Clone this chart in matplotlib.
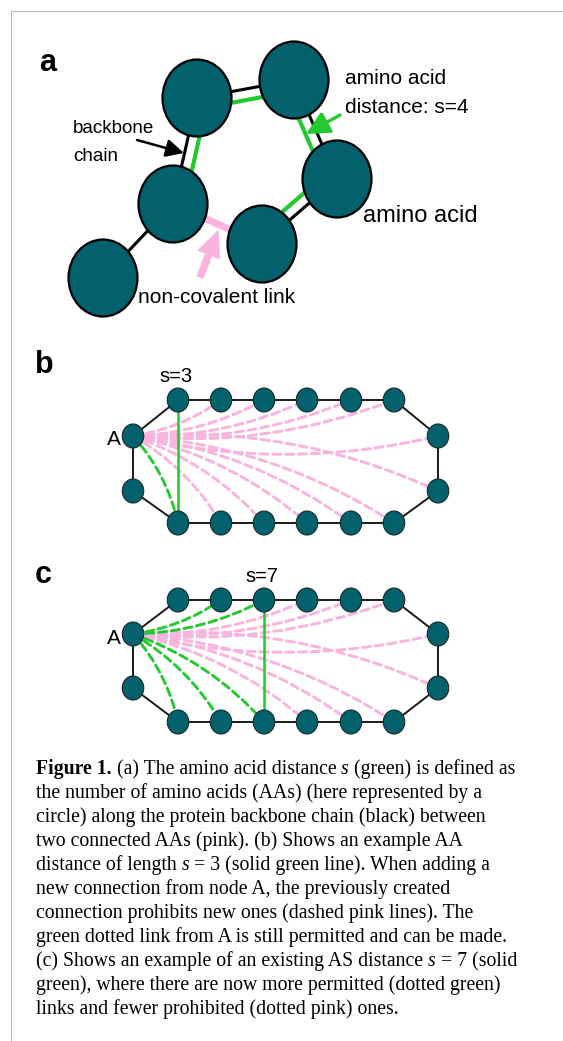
import matplotlib.pyplot as plt
from matplotlib.patches import Ellipse

plt.rcParams['font.family'] = 'Liberation Sans'

TEAL = '#03606d'
GREEN = '#24c831'
PINK = '#f8b3de'

# panel a: amino acids (pixel positions in the figure)
aa_x = [103, 173, 197, 294, 337, 262]
aa_y = [278, 204, 98, 80, 179, 244]
backbone = [(0, 1), (1, 2), (2, 3), (3, 4), (4, 5)]
distance_links = [(1, 2), (2, 3), (3, 4), (4, 5)]
noncovalent = (1, 5)

# panels b and c: ring of 16 amino acids, A = index 0
row_x = [178, 221, 264, 307, 351, 394]
side_x = [133, 438]
b_levels = [400, 436, 491, 523]   # top, upper side, lower side, bottom
c_levels = [600, 634, 688, 722]
b_solid = (1, 14)
b_permitted = [14]
b_prohibited = [2, 3, 4, 5, 6, 7, 8, 9, 10, 11, 12, 13]
c_solid = (3, 12)
c_permitted = [2, 3, 12, 13, 14]
c_prohibited = [4, 5, 6, 7, 8, 9, 10, 11]

# caption: each line is a list of (text, style) pieces joined by spaces
caption = [
    [("Figure 1.", 'b'), ("(a) The amino acid distance", 'r'), ("s", 'i'),
     ("(green) is defined as", 'r')],
    [("the number of amino acids (AAs) (here represented by a", 'r')],
    [("circle) along the protein backbone chain (black) between", 'r')],
    [("two connected AAs (pink). (b) Shows an example AA", 'r')],
    [("distance of length", 'r'), ("s", 'i'), ("= 3 (solid green line). When adding a", 'r')],
    [("new connection from node A, the previously created", 'r')],
    [("connection prohibits new ones (dashed pink lines). The", 'r')],
    [("green dotted link from A is still permitted and can be made.", 'r')],
    [("(c) Shows an example of an existing AS distance", 'r'), ("s", 'i'), ("= 7 (solid", 'r')],
    [("green), where there are now more permitted (dotted green)", 'r')],
    [("links and fewer prohibited (dotted pink) ones.", 'r')],
]

fig = plt.figure(figsize=(5.63, 10.41), dpi=100)
ax = fig.add_axes([0, 0, 1, 1])
ax.set_xlim(0, 563)
ax.set_ylim(1041, 0)
ax.axis('off')

# frame
ax.plot([11, 11, 563], [1041, 11, 11], color='#b8b8b8', lw=0.8)

# ---- panel a ----
cx = sum(aa_x[1:]) / 5
cy = sum(aa_y[1:]) / 5
for i, j in backbone:
    ax.plot([aa_x[i], aa_x[j]], [aa_y[i], aa_y[j]], color='black', lw=2.2, zorder=1)
for i, j in distance_links:
    dx, dy = aa_x[j] - aa_x[i], aa_y[j] - aa_y[i]
    n = (dx ** 2 + dy ** 2) ** 0.5
    px, py = -dy / n, dx / n
    mx, my = (aa_x[i] + aa_x[j]) / 2, (aa_y[i] + aa_y[j]) / 2
    if (cx - mx) * px + (cy - my) * py < 0:
        px, py = -px, -py
    ax.plot([aa_x[i] + 11 * px, aa_x[j] + 11 * px], [aa_y[i] + 11 * py, aa_y[j] + 11 * py],
            color=GREEN, lw=3, zorder=1)
i, j = noncovalent
ax.plot([aa_x[i], aa_x[j]], [aa_y[i], aa_y[j]], color=PINK, lw=5, zorder=1)
for x, y in zip(aa_x, aa_y):
    ax.add_patch(Ellipse((x, y), 69, 77, facecolor=TEAL, edgecolor='black', lw=1.6, zorder=2))

ax.text(39, 71, 'a', fontsize=22, fontweight='bold', va='baseline')
ax.text(73, 133, 'backbone', fontsize=13.6, va='baseline')
ax.text(73, 161, 'chain', fontsize=13.6, va='baseline')
ax.text(345, 84, 'amino acid', fontsize=15, va='baseline')
ax.text(345, 113, 'distance: s=4', fontsize=15, va='baseline')
ax.text(363, 222, 'amino acid', fontsize=17, va='baseline')
ax.text(138, 303, 'non-covalent link', fontsize=15, va='baseline')

ax.annotate('', xy=(184, 153), xytext=(137, 140),
            arrowprops=dict(arrowstyle='-|>,head_length=0.6,head_width=0.3', color='black',
                            lw=1.8, mutation_scale=18, shrinkA=0, shrinkB=0))
ax.annotate('', xy=(306, 134), xytext=(340, 115),
            arrowprops=dict(arrowstyle='-|>,head_length=0.7,head_width=0.35', color=GREEN,
                            lw=2.4, mutation_scale=20, shrinkA=0, shrinkB=0))
ax.annotate('', xy=(218, 231), xytext=(200, 277),
            arrowprops=dict(arrowstyle='simple,head_length=0.9,head_width=0.8,tail_width=0.22',
                            color=PINK, mutation_scale=20, shrinkA=0, shrinkB=0))


# ---- panels b and c ----
def ring(levels):
    top, upper, lower, bottom = levels
    pts = [(side_x[0], upper)]
    pts += [(x, top) for x in row_x]
    pts += [(side_x[1], upper), (side_x[1], lower)]
    pts += [(x, bottom) for x in row_x[::-1]]
    pts += [(side_x[0], lower)]
    return pts


def link(p, q, color):
    rad = -0.13 if q[1] > p[1] else 0.12
    ax.annotate('', xy=q, xytext=p,
                arrowprops=dict(arrowstyle='-', color=color, lw=2.1, ls=(0, (2.8, 1.6)),
                                connectionstyle='arc3,rad=%s' % rad, shrinkA=0, shrinkB=0),
                zorder=1)


def draw_ring(levels, solid, permitted, prohibited):
    pts = ring(levels)
    xs = [p[0] for p in pts] + [pts[0][0]]
    ys = [p[1] for p in pts] + [pts[0][1]]
    ax.plot(xs, ys, color='#1a1a1a', lw=1.4, zorder=1)
    for k in prohibited:
        link(pts[0], pts[k], PINK)
    for k in permitted:
        link(pts[0], pts[k], GREEN)
    a, b = solid
    ax.plot([pts[a][0], pts[b][0]], [pts[a][1], pts[b][1]], color=GREEN, lw=1.8, zorder=1.5)
    for x, y in pts:
        ax.add_patch(Ellipse((x, y), 21.5, 24, facecolor=TEAL, edgecolor='#1a2a2a', lw=0.8, zorder=2))


draw_ring(b_levels, b_solid, b_permitted, b_prohibited)
ax.text(35, 373, 'b', fontsize=22, fontweight='bold', va='baseline')
ax.text(159, 382, 's=3', fontsize=14.5, va='baseline')
ax.text(107, 445, 'A', fontsize=15, va='baseline')

draw_ring(c_levels, c_solid, c_permitted, c_prohibited)
ax.text(35, 583, 'c', fontsize=22, fontweight='bold', va='baseline')
ax.text(245, 582, 's=7', fontsize=14.5, va='baseline')
ax.text(107, 644, 'A', fontsize=15, va='baseline')

# ---- caption ----
renderer = fig.canvas.get_renderer()
cap_size = 14.2
styles = {'r': dict(), 'b': dict(fontweight='bold'), 'i': dict(fontstyle='italic')}


def width(s, **kw):
    t = ax.text(0, 0, s, fontsize=cap_size, family='Liberation Serif', **kw)
    w = t.get_window_extent(renderer).width
    t.remove()
    return w


space = width('x x') - width('xx')
for k, parts in enumerate(caption):
    x = 36
    for s, st in parts:
        t = ax.text(x, 774 + 24 * k, s, fontsize=cap_size, family='Liberation Serif',
                    va='baseline', **styles[st])
        x += t.get_window_extent(renderer).width + space

fig.savefig('out.png', dpi=100)
